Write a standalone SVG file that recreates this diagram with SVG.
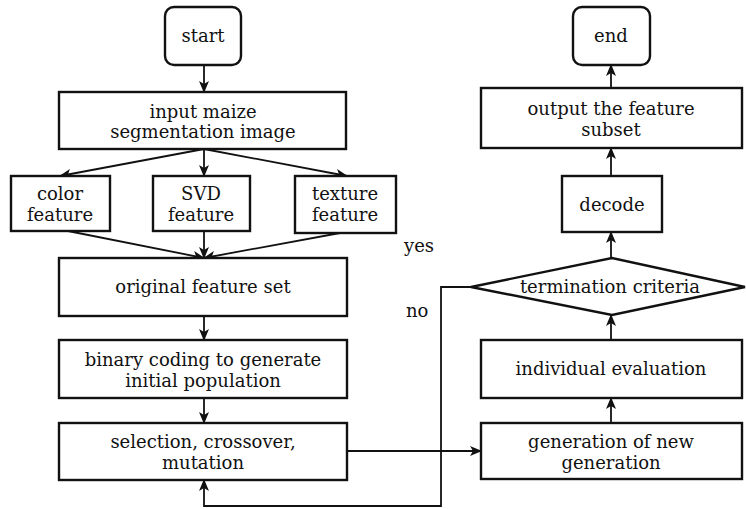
<svg xmlns="http://www.w3.org/2000/svg" width="746" height="509" viewBox="0 0 746 509">
<defs>
<marker id="ah" viewBox="0 0 12 10" refX="11" refY="5" markerWidth="12" markerHeight="10" markerUnits="userSpaceOnUse" orient="auto">
<path d="M0,0 L12,5 L0,10 L3,5 Z" fill="#111"/>
</marker>
<style>
.box{fill:#fff;stroke:#111;stroke-width:2.4}
.ln{fill:none;stroke:#111;stroke-width:1.8}
.t{font-family:"DejaVu Serif","Liberation Serif",serif;font-size:18px;fill:#111;text-anchor:middle}
.l{font-family:"DejaVu Serif","Liberation Serif",serif;font-size:18px;fill:#111}
</style>
</defs>
<rect width="746" height="509" fill="#fff"/>
<g id="connectors">
<line class="ln" x1="204" y1="65" x2="204" y2="92" marker-end="url(#ah)"/>
<line class="ln" x1="204" y1="149" x2="60" y2="176" marker-end="url(#ah)"/>
<line class="ln" x1="204" y1="149" x2="204" y2="176" marker-end="url(#ah)"/>
<line class="ln" x1="204" y1="149" x2="347" y2="176" marker-end="url(#ah)"/>
<line class="ln" x1="68" y1="231" x2="204" y2="258" marker-end="url(#ah)"/>
<line class="ln" x1="204" y1="231" x2="204" y2="258" marker-end="url(#ah)"/>
<line class="ln" x1="340" y1="233" x2="204" y2="258" marker-end="url(#ah)"/>
<line class="ln" x1="204" y1="316" x2="204" y2="340" marker-end="url(#ah)"/>
<line class="ln" x1="204" y1="398" x2="204" y2="423" marker-end="url(#ah)"/>
<line class="ln" x1="347" y1="451" x2="481" y2="451" marker-end="url(#ah)"/>
<line class="ln" x1="611" y1="423" x2="611" y2="398" marker-end="url(#ah)"/>
<line class="ln" x1="611" y1="340" x2="611" y2="315" marker-end="url(#ah)"/>
<line class="ln" x1="611" y1="258" x2="611" y2="232" marker-end="url(#ah)"/>
<line class="ln" x1="611" y1="176" x2="611" y2="148" marker-end="url(#ah)"/>
<line class="ln" x1="611" y1="88" x2="611" y2="65" marker-end="url(#ah)"/>
<polyline class="ln" points="471,287 441,287 441,506 204,506 204,480" marker-end="url(#ah)"/>
<text class="l" x="406" y="317">no</text>
<text class="l" x="404" y="252">yes</text>
</g>
<g id="start"><rect class="box" x="165" y="7" width="76" height="58" rx="9"/><text class="t" x="203" y="42">start</text></g>
<g id="input"><rect class="box" x="59" y="92" width="287" height="57"/><text class="t" x="203" y="118">input maize</text><text class="t" x="203" y="138">segmentation image</text></g>
<g id="color"><rect class="box" x="11" y="176" width="99" height="55"/><text class="t" x="60" y="200">color</text><text class="t" x="60" y="221">feature</text></g>
<g id="svd"><rect class="box" x="153" y="176" width="97" height="55"/><text class="t" x="201" y="200">SVD</text><text class="t" x="201" y="221">feature</text></g>
<g id="texture"><rect class="box" x="295" y="176" width="101" height="57"/><text class="t" x="345" y="200">texture</text><text class="t" x="345" y="221">feature</text></g>
<g id="original"><rect class="box" x="59" y="258" width="288" height="58"/><text class="t" x="203" y="293">original feature set</text></g>
<g id="binary"><rect class="box" x="59" y="340" width="288" height="58"/><text class="t" x="203" y="366">binary coding to generate</text><text class="t" x="203" y="387">initial population</text></g>
<g id="selection"><rect class="box" x="59" y="423" width="288" height="57"/><text class="t" x="203" y="448">selection, crossover,</text><text class="t" x="203" y="469">mutation</text></g>
<g id="generation"><rect class="box" x="481" y="423" width="261" height="56"/><text class="t" x="611" y="448">generation of new</text><text class="t" x="611" y="469">generation</text></g>
<g id="evaluation"><rect class="box" x="481" y="340" width="261" height="58"/><text class="t" x="611" y="375">individual evaluation</text></g>
<g id="termination"><polygon class="box" points="471,287 612,258 745,287 612,315"/><text class="t" x="610" y="293">termination criteria</text></g>
<g id="decode"><rect class="box" x="562" y="176" width="100" height="56"/><text class="t" x="612" y="211">decode</text></g>
<g id="output"><rect class="box" x="481" y="88" width="261" height="60"/><text class="t" x="611" y="115">output the feature</text><text class="t" x="611" y="136">subset</text></g>
<g id="end"><rect class="box" x="573" y="7" width="77" height="58" rx="9"/><text class="t" x="611" y="42">end</text></g>
</svg>
